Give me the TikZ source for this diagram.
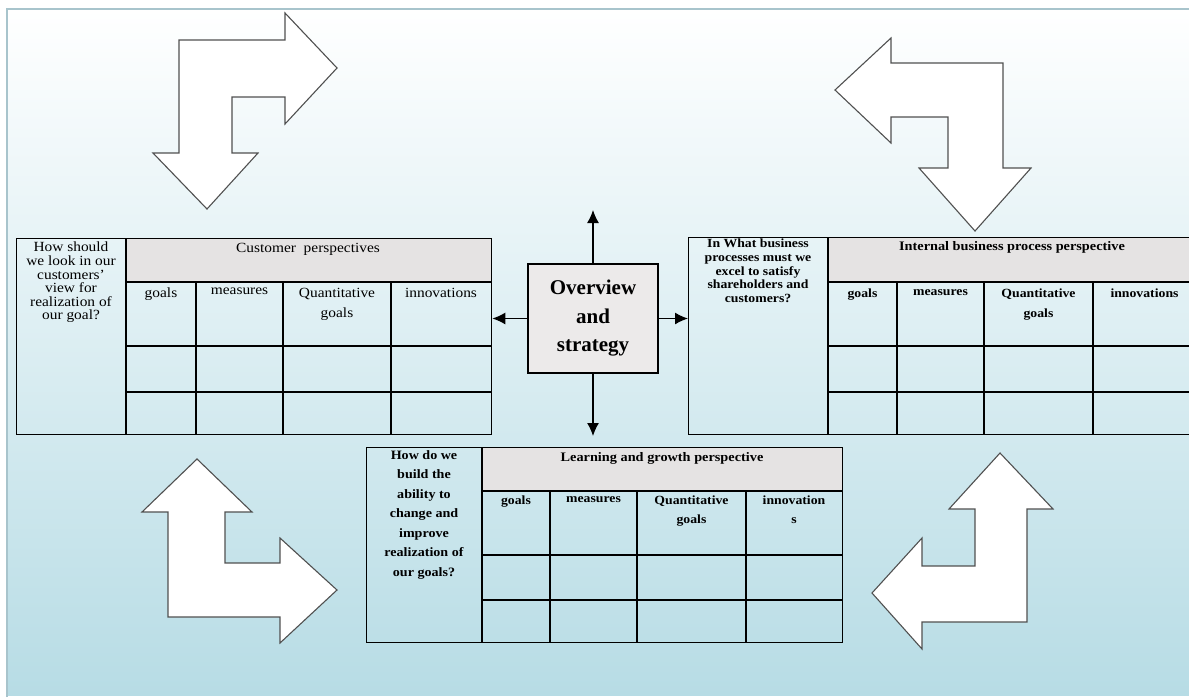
\documentclass[tikz,border=0pt]{standalone}
\usepackage{fontspec}
\setmainfont{Liberation Serif}[FakeStretch=1.1]
\newfontfamily\ovwfont{Liberation Serif}
\usetikzlibrary{arrows.meta,positioning}

\definecolor{bgblue}{RGB}{183,220,229}
\definecolor{framecol}{RGB}{168,196,204}
\definecolor{hdrgrey}{RGB}{229,227,227}
\definecolor{boxgrey}{RGB}{236,234,234}
\definecolor{arrowedge}{RGB}{80,80,80}

\begin{document}
\begin{tikzpicture}[
    >={Latex[length=13pt,width=12pt]},
    x=1pt,
    y=-1pt,
    tblline/.style={draw=black,line width=1.3pt},
    tblbox/.style={draw=black,line width=1.3pt,inner sep=0pt,anchor=north west},
    celltext/.style={inner sep=0pt,anchor=north,align=center,
        font=\fontsize{14}{13.6}\selectfont},
    headtext/.style={inner sep=0pt,anchor=north,align=center,
        font=\fontsize{14}{20}\selectfont},
    ovwbox/.style={draw=black,line width=1.3pt,fill=boxgrey,align=center,
        minimum width=130pt,minimum height=109pt,inner sep=0pt,
        font=\ovwfont\bfseries\fontsize{21}{28.5}\selectfont},
    bigarrow/.style={draw=arrowedge,fill=white,line width=1.1pt,line join=miter}
]

\useasboundingbox (0,0) rectangle (1189,697);

% Tlo z ramka
\fill[white] (0,0) rectangle (1189,697);
\shade[top color=white,bottom color=bgblue]
    (7,9)
    rectangle
    (1189,695);
\draw[framecol,line width=1.5pt]
    (7,697) -- (7,9) -- (1189,9);

% Duze strzalki
\draw[bigarrow]
    (179,40) -- (285,40) -- (285,13) -- (337,68) -- (285,124)
    -- (285,97) -- (232,97) -- (232,153) -- (258,153) -- (207,209)
    -- (153,153) -- (179,153) -- cycle;

\draw[bigarrow]
    (835,90) -- (891,38) -- (891,63) -- (1003,63) -- (1003,168)
    -- (1031,168) -- (975,231) -- (919,168) -- (948,168) -- (948,117)
    -- (891,117) -- (891,143) -- cycle;

\draw[bigarrow]
    (197,459) -- (252,512) -- (225,512) -- (225,563) -- (280,563)
    -- (280,538) -- (337,590) -- (280,643) -- (280,617) -- (168,617)
    -- (168,512) -- (142,512) -- cycle;

\draw[bigarrow]
    (1000,453) -- (1053,509) -- (1027,509) -- (1027,622) -- (922,622)
    -- (922,649) -- (872,593) -- (922,538) -- (922,566) -- (975,566)
    -- (975,509) -- (949,509) -- cycle;

% Tabela: klienci
\fill[hdrgrey] (126,238) rectangle (491,282);
\node[tblbox,minimum width=475pt,minimum height=196pt] (cust) at (16,238) {};
\draw[tblline]
    (126,238) -- (126,434)
    (126,282) -- (491,282)
    (126,346) -- (491,346)
    (126,392) -- (491,392)
    (196,282) -- (196,434)
    (283,282) -- (283,434)
    (391,282) -- (391,434);

\node[celltext] (custq) at (71,242)
    {How should\\we look in our\\customers'\\view for\\realization of\\our goal?};
\node[celltext] (custh) at (308,243)
    {Customer\ \ perspectives};
\node[headtext] (custc1) at (161,288) {goals};
\node[headtext] (custc2) at (239.5,288) {measures};
\node[headtext] (custc3) at (337,288) {Quantitative\\goals};
\node[headtext] (custc4) at (441,288) {innovations};

% Tabela: procesy wewnetrzne
\fill[hdrgrey] (828,237) rectangle (1196,282);
\node[tblbox,minimum width=508pt,minimum height=197pt] (intl) at (688,237) {};
\draw[tblline]
    (828,237) -- (828,434)
    (828,282) -- (1196,282)
    (828,346) -- (1196,346)
    (828,392) -- (1196,392)
    (897,282) -- (897,434)
    (984,282) -- (984,434)
    (1093,282) -- (1093,434);

\node[celltext,font=\bfseries\fontsize{12.5}{13.6}\selectfont] (intlq) at (758,239)
    {In What business\\processes must we\\excel to satisfy\\shareholders and\\customers?};
\node[celltext,font=\bfseries\fontsize{13}{13.6}\selectfont] (intlh) at (1012,241)
    {Internal business process perspective};
\node[headtext,font=\bfseries\fontsize{12.5}{20}\selectfont] (intlc1) at (862.5,289) {goals};
\node[headtext,font=\bfseries\fontsize{12.5}{20}\selectfont] (intlc2) at (940.5,289) {measures};
\node[headtext,font=\bfseries\fontsize{12.5}{20}\selectfont] (intlc3) at (1038.5,289) {Quantitative\\goals};
\node[headtext,font=\bfseries\fontsize{12.5}{20}\selectfont] (intlc4) at (1144.5,289) {innovations};

% Tabela: uczenie sie i rozwoj
\fill[hdrgrey] (482,447) rectangle (842,491);
\node[tblbox,minimum width=476pt,minimum height=195pt] (lrn) at (366,447) {};
\draw[tblline]
    (482,447) -- (482,642)
    (482,491) -- (842,491)
    (482,555) -- (842,555)
    (482,600) -- (842,600)
    (550,491) -- (550,642)
    (637,491) -- (637,642)
    (746,491) -- (746,642);

\node[celltext,font=\bfseries\fontsize{12.8}{19.5}\selectfont] (lrnq) at (424,450)
    {How do we\\build the\\ability to\\change and\\improve\\realization of\\our goals?};
\node[celltext,font=\bfseries\fontsize{13}{13.6}\selectfont] (lrnh) at (662,452)
    {Learning and growth perspective};
\node[headtext,font=\bfseries\fontsize{12.5}{19}\selectfont] (lrnc1) at (516,496) {goals};
\node[headtext,font=\bfseries\fontsize{12.5}{19}\selectfont] (lrnc2) at (593.5,496) {measures};
\node[headtext,font=\bfseries\fontsize{12.5}{19}\selectfont] (lrnc3) at (691.5,496) {Quantitative\\goals};
\node[headtext,font=\bfseries\fontsize{12.5}{19}\selectfont] (lrnc4) at (794,496) {innovation\\s};

% Srodek
\node[ovwbox] (ovw) at (593,318.5) {Overview\\and\\strategy};

\coordinate (uptip) at (593,210);
\coordinate (downtip) at (593,436);

\draw[->,line width=1.3pt] (ovw.north) -- (uptip);
\draw[->,line width=1.3pt] (ovw.south) -- (downtip);
\draw[->,line width=1.3pt] (ovw.west) -- (ovw.west -| cust.east);
\draw[->,line width=1.3pt] (ovw.east) -- (ovw.east -| intl.west);

\end{tikzpicture}
\end{document}
